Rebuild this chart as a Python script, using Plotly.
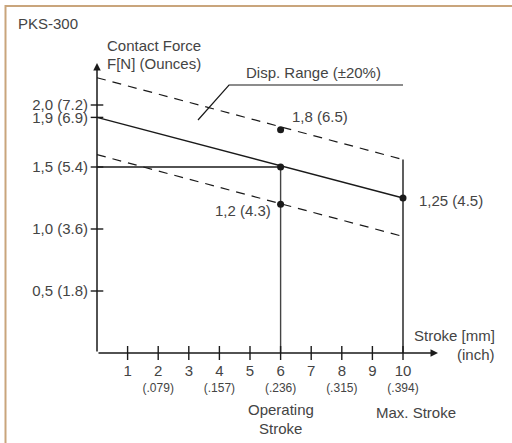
import plotly.graph_objects as go

# ---- data ----
stroke_mm = [1, 2, 3, 4, 5, 6, 7, 8, 9, 10]
stroke_mm_text = ["1", "2", "3", "4", "5", "6", "7", "8", "9", "10"]
stroke_inch_vals = [2, 4, 6, 8, 10]
stroke_inch_text = ["(.079)", "(.157)", "(.236)", "(.315)", "(.394)"]

force_ticks = [0.5, 1.0, 1.5, 1.9, 2.0]
force_tick_text = ["0,5 (1.8)", "1,0 (3.6)", "1,5 (5.4)", "1,9 (6.9)", "2,0 (7.2)"]

line_x = [0, 10]
nominal = [1.9, 1.25]
upper = [2.22, 1.56]
lower = [1.60, 0.94]

op_stroke = 6
op_force = 1.5
op_upper = 1.8
op_lower = 1.2
max_stroke = 10
max_force = 1.25

point_labels = {"upper": "1,8 (6.5)", "lower": "1,2 (4.3)", "max": "1,25 (4.5)"}

# ---- pixel helpers (layout only) ----
W, H = 512, 443
X0PX, XSCALE = 97, 30.6
Y0PX, YSCALE = 353, 124
def xd(px): return (px - X0PX) / XSCALE
def yd(py): return (Y0PX - py) / YSCALE

INK = "#1a1a1a"
TXT = "#444444"
FONT = "Liberation Sans"
FS = 15

fig = go.Figure()

def line(x, y, dash="solid", width=1.4, color=INK):
    fig.add_trace(go.Scatter(x=x, y=y, mode="lines", line=dict(color=color, width=width, dash=dash),
                             hoverinfo="skip", showlegend=False))

line(line_x, upper, dash="9px,7px", width=1.2)
line(line_x, lower, dash="9px,7px", width=1.2)
line(line_x, nominal, width=1.4)
line([0, op_stroke], [op_force, op_force], width=1.4)
line([op_stroke, op_stroke], [0, op_force], width=1.4, color="#444")
line([max_stroke, max_stroke], [0, upper[1]], width=1.4)
# leader line for Disp. Range
line([xd(198), xd(229), xd(403)], [yd(120), yd(85), yd(85)], width=1.2)

# crossing tick marks
fig.add_trace(go.Scatter(x=stroke_mm, y=[0] * len(stroke_mm), mode="markers",
                         marker=dict(symbol="line-ns", size=10, line=dict(color=INK, width=1.4)),
                         hoverinfo="skip", showlegend=False))
fig.add_trace(go.Scatter(x=[0] * len(force_ticks), y=force_ticks, mode="markers",
                         marker=dict(symbol="line-ew", size=9, line=dict(color=INK, width=1.4)),
                         hoverinfo="skip", showlegend=False))

# points
fig.add_trace(go.Scatter(x=[op_stroke, op_stroke, op_stroke, max_stroke],
                         y=[op_force, op_upper, op_lower, max_force], mode="markers",
                         marker=dict(color=INK, size=7), hoverinfo="skip", showlegend=False))

ann = []
# axis arrows
ann.append(dict(x=0, y=yd(63), ax=0, ay=0, xref="x", yref="y", axref="x", ayref="y",
                showarrow=True, arrowhead=2, arrowsize=1, arrowwidth=1.5, arrowcolor=INK, text=""))
ann.append(dict(x=xd(438), y=0, ax=0, ay=0, xref="x", yref="y", axref="x", ayref="y",
                showarrow=True, arrowhead=2, arrowsize=1, arrowwidth=1.5, arrowcolor=INK, text=""))

def text(t, x, y, xanchor="left", size=FS):
    ann.append(dict(text=t, x=x, y=y, xref="x", yref="y", showarrow=False, xanchor=xanchor,
                    yanchor="middle", font=dict(family=FONT, size=size, color=TXT)))

text("PKS-300", xd(16), yd(23))
text("Contact Force", xd(105), yd(45))
text("F[N] (Ounces)", xd(105), yd(63))
text("Disp. Range (\u00b120%)", xd(313), yd(72), xanchor="center")
text(point_labels["upper"], xd(290), yd(116))
text(point_labels["lower"], xd(273), yd(210), xanchor="right")
text(point_labels["max"], xd(417), yd(200))
text("Stroke [mm]", xd(497), yd(335), xanchor="right")
text("(inch)", xd(497), yd(354), xanchor="right")
text("Operating", op_stroke, yd(409), xanchor="center")
text("Stroke", op_stroke, yd(428), xanchor="center")
text("Max. Stroke", xd(416), yd(412), xanchor="center")

fig.update_layout(
    width=W, height=H, margin=dict(l=0, r=0, t=0, b=0, autoexpand=False),
    paper_bgcolor="white", plot_bgcolor="white",
    annotations=ann,
    shapes=[dict(type="rect", xref="paper", yref="paper", x0=5.5 / W, x1=1.2, y0=-0.2,
                 y1=(H - 6) / H, line=dict(color="#c9a57c", width=2), layer="below")],
    xaxis=dict(range=[xd(0), xd(W)], showgrid=False, zeroline=False, showline=False,
               anchor="free", position=(H - Y0PX) / H, automargin=False,
               tickmode="array", tickvals=stroke_mm, ticktext=stroke_mm_text,
               ticks="outside", ticklen=4, tickcolor="rgba(0,0,0,0)",
               tickfont=dict(family=FONT, size=FS, color=TXT)),
    xaxis2=dict(range=[xd(0), xd(W)], showgrid=False, zeroline=False, showline=False,
                overlaying="x", side="bottom", anchor="free", position=(H - Y0PX - 21) / H,
                automargin=False,
                tickmode="array", tickvals=stroke_inch_vals, ticktext=stroke_inch_text,
                ticks="outside", ticklen=3, tickcolor="rgba(0,0,0,0)",
                tickfont=dict(family=FONT, size=12, color=TXT)),
    yaxis=dict(range=[yd(H), yd(0)], showgrid=False, zeroline=False, showline=False,
               anchor="free", position=X0PX / W, automargin=False,
               tickmode="array", tickvals=force_ticks, ticktext=force_tick_text,
               ticks="outside", ticklen=6, tickcolor="rgba(0,0,0,0)",
               tickfont=dict(family=FONT, size=FS, color=TXT)),
)
# dummy trace to activate xaxis2
fig.add_trace(go.Scatter(x=[None], y=[None], xaxis="x2", showlegend=False, hoverinfo="skip"))

fig.write_html("out.html", config={"displayModeBar": False},
               post_script="document.body.style.margin='0';")
